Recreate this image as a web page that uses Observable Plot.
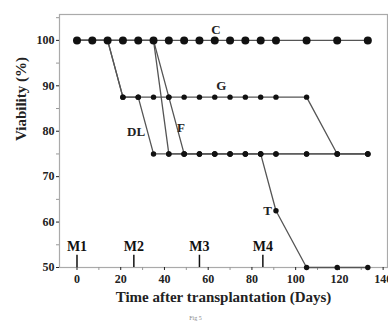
<!DOCTYPE html>
<html>
<head>
<meta charset="utf-8">
<script src="https://cdn.jsdelivr.net/npm/d3@7"></script>
<script src="https://cdn.jsdelivr.net/npm/@observablehq/plot@0.6"></script>
<style>
  html, body { margin: 0; padding: 0; background: #fff; }
</style>
</head>
<body>
<div id="chart"></div>
<script>
// Sampling days
const days = [0, 7, 14, 21, 28, 35, 42, 49, 56, 63, 70, 77, 84, 91, 105, 119, 133];
// Viability (%) per series
const C  = [100, 100, 100, 100, 100, 100, 100, 100, 100, 100, 100, 100, 100, 100, 100, 100, 100];
const G  = [100, 100, 100, 87.5, 87.5, 87.5, 87.5, 87.5, 87.5, 87.5, 87.5, 87.5, 87.5, 87.5, 87.5, 75, 75];
const DL = [100, 100, 100, 87.5, 87.5, 75, 75, 75, 75, 75, 75, 75, 75, 75, 75, 75, 75];
const F  = [100, 100, 100, 100, 100, 100, 87.5, 75, 75, 75, 75, 75, 75, 75, 75, 75, 75];
const T  = [100, 100, 100, 100, 100, 100, 75, 75, 75, 75, 75, 75, 75, 62.5, 50, 50, 50];
const seriesNames = ["G", "DL", "F", "T", "C"];
const seriesValues = {C, G, DL, F, T};

// Series labels (data coordinates)
const labelNames = ["C", "G", "DL", "F", "T"];
const labelDays  = [63.5, 66, 27, 47.5, 91];
const labelVals  = [100, 87.5, 79.8, 80.8, 62.5];

// Measurement markers
const markNames = ["M1", "M2", "M3", "M4"];
const markDays  = [0, 26, 56, 85];

// Axis ticks
const xTicks = [0, 20, 40, 60, 80, 100, 120, 140];
const xMinor = [10, 30, 50, 70, 90, 110, 130];
const yTicks = [50, 60, 70, 80, 90, 100];
const yMinor = [55, 65, 75, 85, 95, 105];

const data = [];
for (const s of seriesNames) {
  seriesValues[s].forEach((v, i) => data.push({series: s, day: days[i], v}));
}
const labels = labelNames.map((n, i) => ({n, day: labelDays[i], v: labelVals[i]}));
const marks = markNames.map((n, i) => ({n, day: markDays[i]}));

const font = "'Liberation Serif', 'Times New Roman', serif";

const chart = Plot.plot({
  width: 388,
  height: 324,
  marginTop: 14,
  marginLeft: 59,
  marginRight: 1,
  marginBottom: 57,
  style: {fontFamily: font, fontWeight: "bold", fontSize: "12px", color: "#222", background: "#fff"},
  x: {type: "linear", domain: [-8, 142]},
  y: {type: "linear", domain: [50, 105.7]},
  marks: [
    Plot.frame({stroke: "#aaa", strokeWidth: 1.2}),
    Plot.axisX({ticks: xTicks, tickSize: 3, tickPadding: 4, label: null, fontSize: 12}),
    Plot.axisX({ticks: xMinor, tickSize: 3, tickFormat: () => "", label: null, stroke: "#999"}),
    Plot.axisY({ticks: yTicks, tickSize: 3, tickPadding: 2, label: null, fontSize: 12}),
    Plot.axisY({ticks: yMinor, tickSize: 3, tickFormat: () => "", label: null, stroke: "#999"}),
    Plot.text(["Time after transplantation (Days)"], {frameAnchor: "bottom", dy: 34, text: d => d, fontSize: 15, fill: "#222"}),
    Plot.text(["Viability (%)"], {frameAnchor: "left", dx: -38, rotate: -90, text: d => d, fontSize: 15, fill: "#222"}),
    Plot.ruleX(marks, {x: "day", y1: 50, y2: 52.7, stroke: "#111", strokeWidth: 1.5}),
    Plot.text(marks, {x: "day", y: 54.6, text: "n", fontSize: 14, fill: "#111"}),
    Plot.line(data, {x: "day", y: "v", z: "series", stroke: "#555", strokeWidth: 1.3}),
    Plot.dot(data.filter(d => d.series !== "C"), {x: "day", y: "v", r: 2.7, fill: "#111", stroke: "none"}),
    Plot.dot(data.filter(d => d.series === "C"), {x: "day", y: "v", r: 4, fill: "#111", stroke: "none"}),
    Plot.text(labels.filter(d => d.n === "C" || d.n === "G"), {x: "day", y: "v", text: "n", dy: -11, fontSize: 13, fill: "#222"}),
    Plot.text(labels.filter(d => d.n === "DL" || d.n === "F"), {x: "day", y: "v", text: "n", fontSize: 13, fill: "#222"}),
    Plot.text(labels.filter(d => d.n === "T"), {x: "day", y: "v", text: "n", textAnchor: "end", dx: -4, fontSize: 13, fill: "#222"}),
    Plot.text(["Fig 5"], {frameAnchor: "bottom", dx: -28, dy: 52, text: d => d, fontSize: 6, fontWeight: "normal", fill: "#888"})
  ]
});
document.getElementById("chart").appendChild(chart);
</script>
</body>
</html>
